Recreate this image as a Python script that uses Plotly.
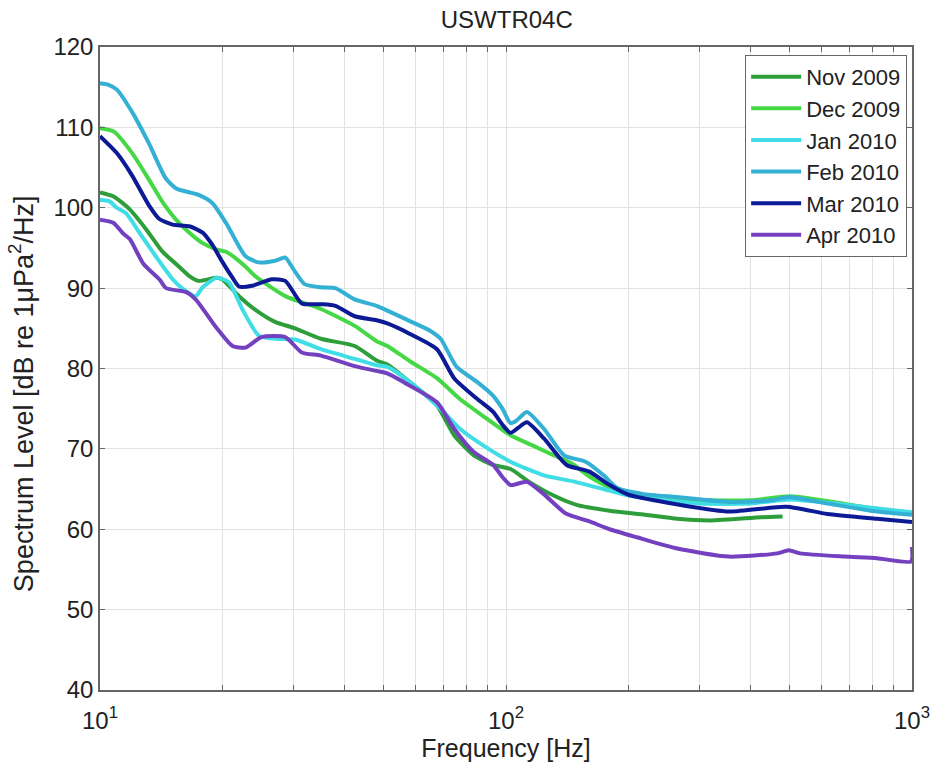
import plotly.graph_objects as go

# ---- data ----
nov_f = [10, 10.8, 11.84, 13, 14.27, 15.4, 16.6, 17.5, 19.4, 20, 22, 24, 27, 30.2, 35, 42.4, 48, 51, 58, 67.6, 74.5, 83.3, 93, 102.6, 114, 131, 150, 180, 220, 264, 320, 425, 480]
nov_db = [101.9, 101.4, 99.8, 97.3, 94.5, 93.0, 91.5, 90.9, 91.3, 91.1, 89.0, 87.4, 85.8, 85.0, 83.7, 82.8, 81.0, 80.5, 78.3, 75.4, 71.7, 69.2, 68.0, 67.5, 65.9, 64.2, 63.0, 62.3, 61.8, 61.3, 61.1, 61.5, 61.6]

dec_f = [10, 10.8, 12, 13.2, 14.3, 15.4, 16.6, 17.9, 19.4, 20.5, 22.8, 24.1, 28.6, 35, 42.4, 48, 51, 58, 67.6, 77, 90, 102.6, 116.6, 131, 145, 160, 180, 200, 250, 300, 400, 500, 600, 800, 1000]
dec_db = [109.9, 109.5, 106.8, 103.5, 100.6, 98.5, 96.9, 95.6, 94.8, 94.5, 92.7, 91.5, 89.0, 87.4, 85.3, 83.4, 82.8, 80.9, 78.8, 76.2, 73.7, 71.7, 70.4, 69.2, 68.2, 66.6, 65.2, 64.3, 63.7, 63.6, 63.6, 64.1, 63.6, 62.6, 62.0]

jan_f = [10, 10.55, 11, 11.6, 12.5, 13.7, 15.1, 16, 17.2, 17.9, 19.4, 20.8, 22.4, 24.6, 27, 30.2, 35, 42.4, 48, 51, 58, 68.9, 77, 88, 102.6, 124, 148, 180, 200, 250, 300, 400, 500, 700, 1000]
jan_db = [101.0, 100.8, 100.0, 99.3, 96.9, 94.0, 91.1, 89.9, 89.0, 90.1, 91.3, 90.7, 87.4, 84.1, 83.7, 83.6, 82.4, 81.2, 80.4, 80.2, 78.3, 75.0, 72.5, 70.4, 68.4, 66.7, 65.9, 64.8, 64.2, 63.6, 63.2, 63.2, 63.7, 63.0, 62.1]

feb_f = [10, 10.5, 11, 12, 13.2, 14.5, 15.4, 17.5, 18.9, 20.5, 22.8, 24.6, 27, 28.6, 30, 31.9, 35, 38, 42.4, 48, 51, 58, 65, 69, 75.6, 85, 93, 98, 102.6, 106, 112.6, 124, 139, 157, 174, 187, 217, 264, 354, 451, 497, 619, 820, 1000]
feb_db = [115.5, 115.3, 114.7, 111.9, 108.0, 103.7, 102.4, 101.6, 100.6, 98.0, 94.0, 93.2, 93.4, 93.8, 92.3, 90.5, 90.1, 90.0, 88.6, 87.8, 87.2, 85.9, 84.7, 83.7, 80.2, 78.3, 76.6, 75.0, 73.2, 73.5, 74.6, 72.5, 69.2, 68.4, 66.7, 65.2, 64.4, 64.0, 63.4, 63.6, 64.0, 63.2, 62.2, 61.8]

mar_f = [10, 11, 12, 13.2, 14, 15.1, 16.6, 17.9, 18.9, 20, 21.2, 22, 23.7, 26.5, 28.6, 31.4, 35, 38, 42.4, 48, 51, 58, 67.6, 74.5, 85, 93, 98, 102.6, 107, 112.6, 124, 141, 160, 180, 200, 250, 354, 490, 619, 820, 1000]
mar_db = [108.9, 106.8, 104.0, 100.3, 98.6, 97.9, 97.7, 96.9, 95.4, 93.3, 91.3, 90.2, 90.3, 91.1, 90.9, 88.1, 88.0, 87.8, 86.5, 86.0, 85.6, 84.3, 82.4, 78.8, 76.2, 74.6, 73.0, 72.0, 72.6, 73.3, 71.3, 68.0, 67.2, 65.5, 64.3, 63.3, 62.2, 62.8, 61.9, 61.3, 60.9]

apr_f = [10, 10.8, 11.4, 11.84, 12.8, 14, 14.55, 16.3, 17.2, 19.4, 21.2, 22.8, 25, 28.6, 31.4, 35, 42.4, 48, 51, 56, 67.6, 74.5, 83.3, 93, 98, 102.6, 112.6, 123.7, 140, 160, 180, 210, 264, 354, 466, 497, 530, 680, 820, 995, 1000]
apr_db = [98.5, 98.1, 96.8, 96.1, 93.0, 91.1, 90.0, 89.5, 88.6, 85.0, 82.8, 82.6, 83.9, 83.9, 82.0, 81.6, 80.3, 79.7, 79.4, 78.3, 75.8, 72.5, 69.6, 68.0, 66.5, 65.5, 65.9, 64.4, 62.0, 61.0, 60.0, 59.0, 57.6, 56.6, 57.0, 57.4, 57.0, 56.6, 56.4, 56.0, 57.8]

series_names = ["Nov 2009", "Dec 2009", "Jan 2010", "Feb 2010", "Mar 2010", "Apr 2010"]
series_colors = ["#2e9e3a", "#45d845", "#40dde6", "#33b0d4", "#0d1a96", "#7340c0"]
series_data = [(nov_f, nov_db), (dec_f, dec_db), (jan_f, jan_db),
               (feb_f, feb_db), (mar_f, mar_db), (apr_f, apr_db)]

x_major_vals = [10, 100, 1000]
x_major_text = ["10<sup>1</sup>", "10<sup>2</sup>", "10<sup>3</sup>"]
x_minor_vals = [20, 30, 40, 50, 60, 70, 80, 90, 200, 300, 400, 500, 600, 700, 800, 900]

FONT = "Liberation Sans, Arial, sans-serif"

fig = go.Figure()
for name, color, (f, db) in zip(series_names, series_colors, series_data):
    fig.add_trace(go.Scatter(x=f, y=db, mode="lines", name=name,
                             line=dict(color=color, width=4, shape="spline", smoothing=0.6)))

fig.update_layout(
    width=942, height=769,
    margin=dict(l=100, r=23, t=47, b=77),
    paper_bgcolor="white", plot_bgcolor="white",
    font=dict(family=FONT, size=24, color="#222"),
    title=dict(text="USWTR04C", x=0.538, xanchor="center", y=0.974, yanchor="middle",
               yref="container", font=dict(size=24, color="#222")),
    showlegend=True,
    legend=dict(x=0.994, xanchor="right", y=0.9876, yanchor="top",
                bgcolor="white", bordercolor="#666", borderwidth=1,
                font=dict(size=22, color="#222"), tracegroupgap=0,
                itemwidth=50),
    annotations=[dict(text="Spectrum Level [dB re 1\u03bcPa<sup>2</sup>/Hz]",
                      xref="paper", yref="paper", x=-0.097, y=0.4605,
                      xanchor="center", yanchor="middle", textangle=-90,
                      showarrow=False, font=dict(size=27, color="#222"))],
)
fig.update_xaxes(type="log", range=[1, 3], tickmode="array",
                 tickvals=x_major_vals, ticktext=x_major_text,
                 ticks="inside", ticklen=5, tickcolor="#666",
                 ticklabelstandoff=8,
                 showgrid=True, gridcolor="#e2e2e2", gridwidth=1,
                 minor=dict(tickmode="array", tickvals=x_minor_vals, ticks="inside",
                            ticklen=5, tickcolor="#666", showgrid=True,
                            gridcolor="#e2e2e2", gridwidth=1),
                 showline=True, linecolor="#666", linewidth=1.5, mirror="ticks",
                 zeroline=False,
                 title=dict(text="Frequency [Hz]", standoff=6, font=dict(size=25)),
                 tickfont=dict(size=24))
fig.update_yaxes(range=[40, 120], dtick=10, tick0=40,
                 ticks="inside", ticklen=5, tickcolor="#666",
                 showgrid=True, gridcolor="#e2e2e2", gridwidth=1,
                 showline=True, linecolor="#666", linewidth=1.5, mirror="ticks",
                 zeroline=False,
                 tickfont=dict(size=24))

fig.write_html("out.html", config={"displayModeBar": False},
               post_script="document.body.style.margin='0';")
